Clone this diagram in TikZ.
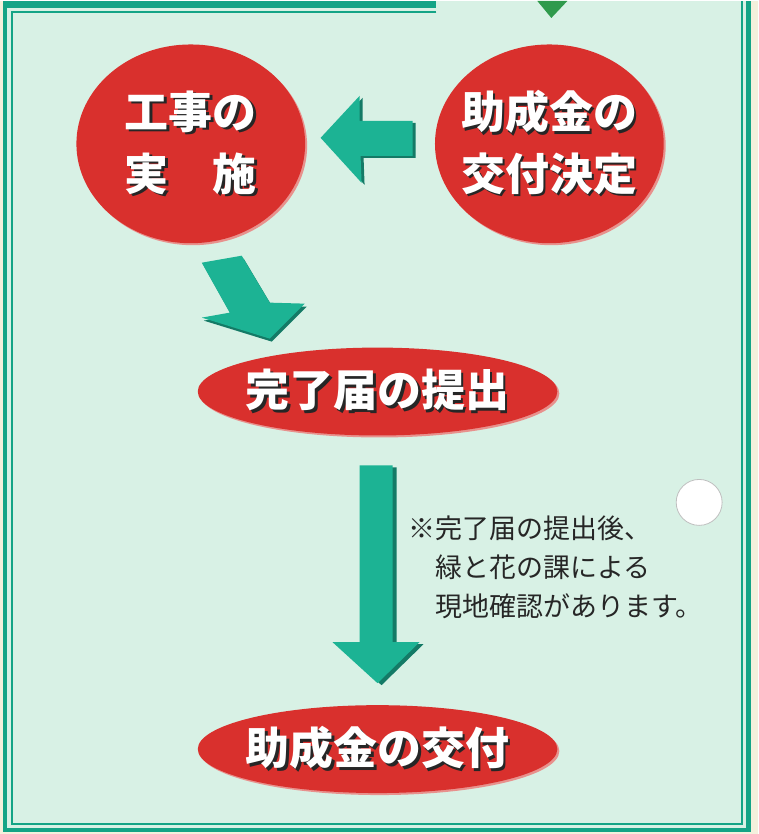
\documentclass[tikz,border=0pt]{standalone}
\usepackage{fontspec}
\newfontfamily\jp{Noto Sans CJK JP}
\usepackage{tikz}
\usetikzlibrary{shapes.geometric,shadows}
\definecolor{paper}{HTML}{F4F0DC}
\definecolor{mint}{HTML}{D8F1E5}
\definecolor{frameteal}{HTML}{14A486}
\definecolor{arrowteal}{HTML}{1CB394}
\definecolor{arrowdark}{HTML}{147A66}
\definecolor{topgreen}{HTML}{2F9A4C}
\definecolor{ballred}{HTML}{D9302D}
\definecolor{ballpink}{HTML}{E8918D}
\definecolor{shade}{HTML}{262626}
\newcommand{\shtxt}[1]{\makebox[0pt][l]{\hspace{2.5pt}\raisebox{-2.5pt}{\color{shade}#1}}\textcolor{white}{#1}}
\tikzstyle{redball} = [ellipse, fill=ballred, inner sep=0pt, minimum width=229pt, minimum height=199pt,
drop shadow={shadow xshift=2pt, shadow yshift=-2pt, fill=ballpink, opacity=1}]
\tikzstyle{redoval} = [redball, minimum width=360pt, minimum height=88pt]
\tikzstyle{bigtext} = [font=\jp\bfseries\fontsize{44}{62}\selectfont, align=center, inner sep=0pt]
\tikzstyle{notetext} = [font=\jp\fontsize{27}{39.5}\selectfont, align=left, inner sep=0pt, text=shade]
\tikzstyle{blockarrow} = [fill=arrowteal]
\tikzstyle{arrowshade} = [fill=arrowdark]
\tikzstyle{frame} = [fill=frameteal]

\begin{document}
\begin{tikzpicture}[x=1pt, y=-1pt, node distance=359pt]
	% page and frame
	\fill[paper] (0,0) rectangle (759,834);
	\fill[mint] (3,0) rectangle (752,832);
	\fill[frame] (3,0) rectangle (7,832);
	\fill[frame] (747,0) rectangle (752,832);
	\fill[frame] (3,828) rectangle (752,832);
	\fill[frame] (3,0) rectangle (437,7);
	\draw[frameteal, line width=2pt] (437,11) -- (12,11) -- (12,824) -- (743,824) -- (743,0);
	\fill[topgreen] (538,0) -- (568,0) -- (552,17) -- cycle;
	\fill[white] (700,502) circle (23pt);
	\draw[black!25, line width=0.8pt] (700,502) circle (23pt);

	\node (kettei) [redball] at (550,143) {};
	\node (jisshi) [redball, left of=kettei] {};
	\node (kanryo) [redoval] at (378,391) {};
	\node (kofu) [redoval, below of=kanryo, node distance=358pt] {};

	\node (kettei-txt) [bigtext] at (kettei) {\shtxt{助成金の}\\\shtxt{交付決定}};
	\node (jisshi-txt) [bigtext] at (jisshi) {\shtxt{工事の}\\\shtxt{実　施}};
	\node (kanryo-txt) [bigtext] at (kanryo) {\shtxt{完了届の提出}};
	\node (kofu-txt) [bigtext] at (kofu) {\shtxt{助成金の交付}};

	% block arrows
	\fill[arrowshade, shift={(3,2)}] (321,137) -- (360,95) -- (360,120) -- (413,120) -- (413,155) -- (361,155) -- (362,182) -- cycle;
	\fill[blockarrow] (321,137) -- (360,95) -- (360,120) -- (413,120) -- (413,155) -- (361,155) -- (362,182) -- cycle;
	\fill[arrowshade, shift={(2,3)}] (202,262) -- (242,255) -- (270,302) -- (305,303) -- (270,338) -- (202,317) -- (230,312) -- cycle;
	\fill[blockarrow] (202,262) -- (242,255) -- (270,302) -- (305,303) -- (270,338) -- (202,317) -- (230,312) -- cycle;
	\fill[arrowshade, shift={(4,2)}] (360,465) -- (393,465) -- (393,642) -- (420,642) -- (378,683) -- (333,642) -- (360,642) -- cycle;
	\fill[blockarrow] (360,465) -- (393,465) -- (393,642) -- (420,642) -- (378,683) -- (333,642) -- (360,642) -- cycle;

	\node (note) [notetext, anchor=west] at (409,567) {※完了届の提出後、\\　緑と花の課による\\　現地確認があります。};
\end{tikzpicture}
\end{document}
